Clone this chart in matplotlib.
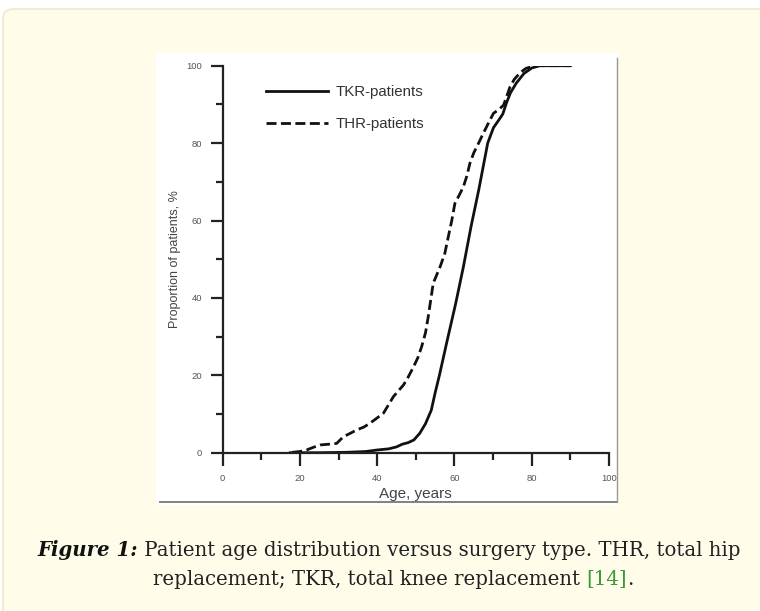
import matplotlib
matplotlib.use("Agg")
import matplotlib.pyplot as plt
from matplotlib.patches import FancyBboxPatch, Rectangle
from matplotlib.lines import Line2D

# data (age in years, cumulative % of patients)
tkr_age = [17.5, 25, 32, 37, 40, 43, 45, 46.5, 48, 49.5, 51, 52.5, 54, 55, 56.1, 58,
           60.3, 62.3, 64.3, 66.3, 68.6, 70.1, 71.5, 72.5, 73.5, 74.5, 76, 78, 80, 82, 86, 90]
tkr_pct = [0, 0, 0.1, 0.3, 0.7, 1.0, 1.5, 2.2, 2.6, 3.3, 5.0, 7.5, 11.0, 15.5, 20.0, 28.5,
           38.5, 48.0, 58.5, 68.0, 80.0, 84.0, 86.0, 87.5, 90.5, 93.0, 95.5, 98.0, 99.4, 100, 100, 100]

thr_age = [18, 20, 21.7, 23.5, 25.2, 27.5, 29.5, 31.2, 33, 34.7, 36.5, 38.1, 40, 41.6, 43,
           44.2, 45.5, 46.8, 48, 49.4, 50.5, 51.5, 52.5, 53.2, 54.5, 56.3, 57.5, 58.4, 59.3,
           60.1, 61.2, 62.3, 63.2, 64, 65, 66.2, 67.2, 68.3, 69.2, 70.1, 71.5, 72.7, 73.5,
           74.4, 75.5, 77, 78.5, 80, 82, 86, 90]
thr_pct = [0.1, 0.3, 0.7, 1.4, 2.0, 2.2, 2.4, 4.1, 5.0, 5.9, 6.6, 7.6, 9.0, 10.2, 12.5,
           14.5, 16.0, 17.5, 19.5, 22.2, 24.5, 27.4, 31.0, 35.1, 43.8, 48.1, 51.5, 55.8, 60.0,
           64.4, 66.5, 68.7, 71.5, 74.8, 77.5, 79.9, 82.0, 84.2, 86.0, 87.7, 88.7, 89.8, 92.0,
           94.6, 96.5, 98.2, 99.3, 99.8, 100, 100, 100]

series_labels = ["TKR-patients", "THR-patients"]
x_ticks = [0, 20, 40, 60, 80, 100]
y_ticks = [0, 20, 40, 60, 80, 100]

caption_bold = "Figure 1:"
caption_line1 = " Patient age distribution versus surgery type. THR, total hip"
caption_line2 = "replacement; TKR, total knee replacement "
caption_ref = "[14]"

W, H = 760, 611
fig = plt.figure(figsize=(W / 100, H / 100), dpi=100, facecolor="white")

def fx(px):
    return px / W

def fy(py):
    return 1 - py / H

# cream card
card = FancyBboxPatch((fx(3), fy(640)), fx(790), fy(9) - fy(640),
                      boxstyle="round,pad=0,rounding_size=0.015",
                      transform=fig.transFigure, facecolor="#fffde9",
                      edgecolor="#efebd6", linewidth=1.5, zorder=0)
fig.patches.append(card)

# white image panel
panel = Rectangle((fx(156), fy(505)), fx(618) - fx(156), fy(53) - fy(505),
                  transform=fig.transFigure, facecolor="white", edgecolor="none", zorder=1)
fig.patches.append(panel)
fig.lines.append(Line2D([fx(160), fx(617)], [fy(501.5), fy(501.5)],
                        transform=fig.transFigure, color="#777777", lw=1.3, zorder=2))
fig.lines.append(Line2D([fx(617), fx(617)], [fy(58), fy(501.5)],
                        transform=fig.transFigure, color="#999999", lw=1.0, zorder=2))

ax = fig.add_axes([fx(222.7), fy(452.7), fx(609) - fx(222.7), fy(65.7) - fy(452.7)])
ax.set_zorder(3)
ax.patch.set_visible(False)

ax.plot(tkr_age, tkr_pct, color="#111111", lw=2.0, label=series_labels[0])
ax.plot(thr_age, thr_pct, color="#111111", lw=2.0, dashes=(3.6, 1.6), label=series_labels[1])

ax.set_xlim(0, 100)
ax.set_ylim(0, 100)
ax.set_xticks(x_ticks)
ax.set_yticks(y_ticks)
ax.set_xticks([10, 30, 50, 70, 90], minor=True)
ax.set_yticks([10, 30, 50, 70, 90], minor=True)
ax.set_xticklabels([str(t) for t in x_ticks])
ax.set_yticklabels([str(t) for t in y_ticks])

for s in ["top", "right"]:
    ax.spines[s].set_visible(False)
for s in ["left", "bottom"]:
    ax.spines[s].set_linewidth(1.6)
    ax.spines[s].set_color("#222222")

ax.tick_params(axis="both", which="major", direction="out", length=9, width=1.6,
               color="#222222", labelsize=6.8, labelcolor="#555555", pad=6)
ax.tick_params(axis="both", which="minor", direction="out", length=5, width=1.6,
               color="#222222")

ax.set_xlabel("Age, years", family="Liberation Sans", fontsize=11, color="#444444", labelpad=3)
ax.set_ylabel("Proportion of patients, %", family="Liberation Sans", fontsize=9,
              color="#444444", labelpad=4)
for lab in ax.get_xticklabels() + ax.get_yticklabels():
    lab.set_family("Liberation Sans")

leg = ax.legend(loc="upper left", bbox_to_anchor=(0.093, 0.969), frameon=False,
                prop={"family": "Liberation Sans", "size": 10.8}, handlelength=4.1,
                handletextpad=0.5, labelspacing=1.2, borderpad=0)
for t in leg.get_texts():
    t.set_color("#333333")

# caption, two centred lines with mixed styles
renderer = fig.canvas.get_renderer()
serif = "DejaVu Serif"

def width_px(txt, **kw):
    t = fig.text(0, 0, txt, **kw)
    w = t.get_window_extent(renderer).width
    t.remove()
    return w

base = 12
w1 = width_px(caption_bold, family=serif, fontsize=base, weight="bold", style="italic") + \
     width_px(caption_line1, family=serif, fontsize=base)
fs = base * 699 / w1

def put_line(parts, cx, base_y):
    widths = [width_px(p[0], family=serif, fontsize=fs, **p[1]) for p in parts]
    x = cx - sum(widths) / 2
    for (txt, kw), w in zip(parts, widths):
        fig.text(fx(x), fy(base_y), txt, family=serif, fontsize=fs, va="baseline",
                 ha="left", **kw)
        x += w

put_line([(caption_bold, {"weight": "bold", "style": "italic", "color": "#111111"}),
          (caption_line1, {"color": "#222222"})], 388.5, 556)
put_line([(caption_line2, {"color": "#222222"}),
          (caption_ref, {"color": "#3a9a3a"}),
          (".", {"color": "#222222"})], 393, 585)

fig.savefig("out.png", dpi=100, facecolor="white")
